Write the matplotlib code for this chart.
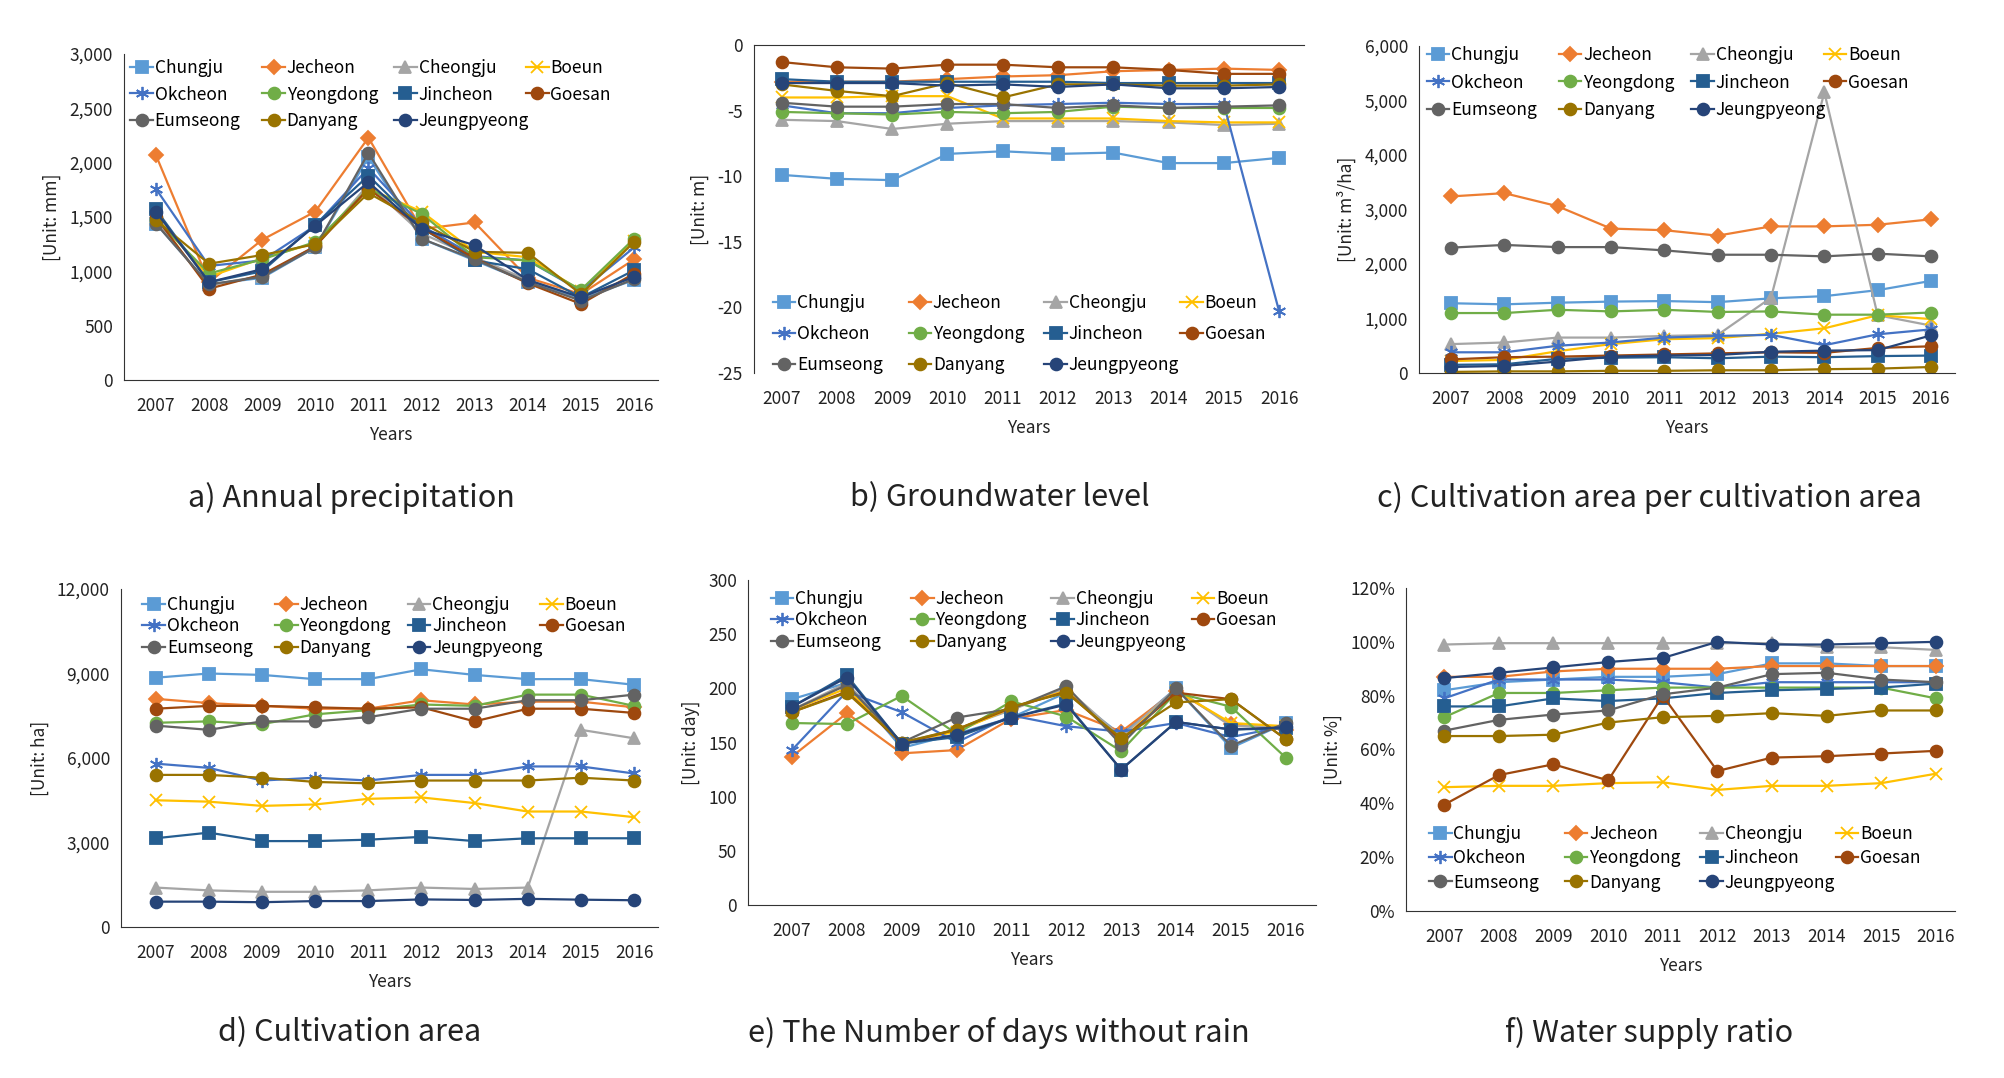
import numpy as np
import matplotlib.pyplot as plt
from matplotlib.ticker import FuncFormatter

plt.rcParams['font.family'] = ['Noto Sans CJK KR', 'DejaVu Sans']
plt.rcParams['axes.unicode_minus'] = False

# ------------------------------
# Datos
# ------------------------------
years = ['2007', '2008', '2009', '2010', '2011', '2012', '2013', '2014', '2015', '2016']
regions = ['Chungju', 'Jecheon', 'Cheongju', 'Boeun', 'Okcheon', 'Yeongdong',
           'Jincheon', 'Goesan', 'Eumseong', 'Danyang', 'Jeungpyeong']

# a) annual precipitation (mm)
precip = [
    [1440, 880, 940, 1220, 2050, 1300, 1100, 900, 750, 920],
    [2070, 900, 1290, 1550, 2230, 1390, 1450, 940, 790, 1110],
    [1470, 870, 960, 1230, 1800, 1350, 1130, 920, 760, 950],
    [1500, 950, 1120, 1260, 1760, 1550, 1180, 1130, 820, 1280],
    [1760, 1050, 1100, 1420, 1950, 1420, 1140, 1100, 820, 1220],
    [1480, 980, 1110, 1270, 1760, 1530, 1130, 1100, 830, 1300],
    [1570, 900, 1000, 1430, 1880, 1400, 1100, 1020, 760, 1010],
    [1500, 840, 970, 1230, 1760, 1400, 1120, 890, 700, 980],
    [1440, 880, 950, 1220, 2090, 1300, 1110, 900, 730, 930],
    [1470, 1070, 1150, 1250, 1720, 1450, 1180, 1170, 790, 1270],
    [1550, 900, 1020, 1420, 1820, 1390, 1240, 920, 760, 950],
]

# b) groundwater level (m)
groundwater = [
    [-9.9, -10.2, -10.3, -8.3, -8.1, -8.3, -8.2, -9.0, -9.0, -8.6],
    [-2.8, -2.8, -2.8, -2.6, -2.4, -2.3, -2.0, -1.9, -1.8, -1.9],
    [-5.7, -5.8, -6.4, -6.0, -5.8, -5.8, -5.8, -5.9, -6.1, -6.0],
    [-4.0, -4.0, -3.9, -3.9, -5.6, -5.6, -5.6, -5.8, -5.9, -5.9],
    [-4.6, -5.2, -5.2, -4.8, -4.6, -4.5, -4.4, -4.5, -4.5, -20.3],
    [-5.1, -5.2, -5.3, -5.1, -5.2, -5.1, -4.7, -4.8, -4.8, -4.8],
    [-2.6, -2.8, -2.8, -2.8, -2.8, -2.8, -2.9, -2.9, -2.9, -2.9],
    [-1.3, -1.7, -1.8, -1.5, -1.5, -1.7, -1.7, -1.9, -2.2, -2.2],
    [-4.4, -4.7, -4.7, -4.5, -4.5, -4.8, -4.6, -4.8, -4.7, -4.6],
    [-3.0, -3.5, -3.9, -2.9, -4.0, -3.0, -3.0, -3.1, -3.1, -3.0],
    [-2.9, -2.9, -2.9, -3.1, -3.0, -3.2, -3.0, -3.3, -3.3, -3.2],
]

# c) water per cultivation area (m3/ha)
water_per_area = [
    [1280, 1260, 1290, 1310, 1320, 1300, 1370, 1410, 1520, 1690],
    [3240, 3300, 3060, 2650, 2620, 2520, 2690, 2690, 2720, 2820],
    [530, 560, 650, 650, 680, 700, 1380, 5150, 1060, 870],
    [220, 240, 400, 530, 620, 640, 720, 820, 1060, 990],
    [380, 380, 500, 560, 650, 680, 700, 510, 710, 800],
    [1100, 1100, 1160, 1130, 1160, 1120, 1130, 1070, 1070, 1110],
    [150, 160, 260, 280, 290, 270, 300, 290, 310, 320],
    [250, 290, 300, 320, 340, 360, 380, 370, 460, 490],
    [2300, 2350, 2310, 2310, 2250, 2170, 2170, 2140, 2190, 2140],
    [20, 30, 30, 40, 40, 50, 50, 70, 80, 110],
    [110, 130, 210, 300, 320, 330, 390, 410, 420, 690],
]

# d) cultivation area (ha)
cult_area = [
    [8850, 9000, 8950, 8800, 8800, 9150, 8950, 8800, 8800, 8600],
    [8100, 7950, 7850, 7750, 7750, 8050, 7900, 8000, 8000, 7800],
    [1400, 1300, 1250, 1250, 1300, 1400, 1350, 1400, 7000, 6700],
    [4500, 4450, 4300, 4350, 4550, 4600, 4400, 4100, 4100, 3900],
    [5800, 5650, 5200, 5300, 5200, 5400, 5400, 5700, 5700, 5450],
    [7250, 7300, 7200, 7550, 7700, 7900, 7850, 8250, 8250, 7850],
    [3150, 3350, 3050, 3050, 3100, 3200, 3050, 3150, 3150, 3150],
    [7750, 7850, 7850, 7800, 7750, 7800, 7300, 7750, 7750, 7600],
    [7150, 7000, 7300, 7300, 7450, 7750, 7750, 8050, 8050, 8250],
    [5400, 5400, 5300, 5150, 5100, 5200, 5200, 5200, 5300, 5200],
    [900, 900, 880, 920, 920, 980, 960, 1000, 970, 950],
]

# e) days without rain
dry_days = [
    [190, 205, 145, 158, 173, 196, 157, 200, 145, 168],
    [137, 177, 140, 143, 172, 180, 160, 198, 167, 162],
    [180, 205, 150, 162, 180, 200, 155, 200, 165, 165],
    [180, 200, 150, 160, 182, 198, 152, 198, 168, 165],
    [143, 197, 178, 150, 175, 165, 160, 168, 155, 165],
    [168, 167, 193, 158, 188, 174, 142, 196, 183, 136],
    [183, 212, 149, 155, 173, 186, 125, 169, 162, 163],
    [178, 197, 149, 162, 182, 197, 152, 196, 190, 153],
    [180, 203, 150, 173, 181, 202, 148, 200, 147, 168],
    [178, 196, 150, 162, 183, 196, 154, 187, 190, 153],
    [183, 210, 149, 157, 173, 185, 125, 169, 162, 164],
]

# f) water supply ratio (%)
supply_ratio = [
    [82, 85, 86, 87, 87, 88, 92, 92, 91, 91],
    [87, 87, 89, 90, 90, 90, 91, 91, 91, 91],
    [99, 99.5, 99.5, 99.5, 99.5, 99.5, 99.5, 98, 98, 97],
    [46, 46.5, 46.5, 47.5, 47.8, 45, 46.5, 46.5, 47.5, 51],
    [79, 86, 86, 86, 85, 83, 85, 85, 85, 85],
    [72, 81, 81, 82, 83, 83, 83, 83, 83, 79],
    [76, 76, 79, 78, 79, 81, 82, 82.5, 83, 84.5],
    [39.5, 50.5, 54.5, 48.5, 80, 52, 57, 57.5, 58.5, 59.5],
    [67, 71, 73, 74.5, 80.5, 83, 88, 88.5, 86, 85],
    [65, 65, 65.5, 70, 72, 72.5, 73.5, 72.5, 74.5, 74.5],
    [86.5, 88.5, 90.5, 92.5, 94, 100, 99, 99, 99.5, 100],
]

colors = ['#5B9BD5', '#ED7D31', '#A5A5A5', '#FFC000', '#4472C4', '#70AD47',
          '#255E91', '#9E480E', '#636363', '#997300', '#264478']
markers = ['s', 'D', '^', 'x', (6, 2, 0), 'o', 's', 'o', 'o', 'o', 'o']
msizes = [8.5, 7, 8, 8.5, 9.5, 8.5, 8.5, 8.5, 8.5, 8.5, 8.5]

W, H = 2004, 1078
fig = plt.figure(figsize=(W / 100, H / 100), dpi=100)
fig.patch.set_facecolor('white')


def draw_panel(box, data, yticks, fmt, ylabel, xlim, leg_x0, leg_y, leg_space,
               caption, cap_x, cap_y, axis_top=False):
    left, right, top, bottom = box
    ax = fig.add_axes([left / W, 1 - bottom / H, (right - left) / W, (bottom - top) / H])
    x = np.arange(len(years))
    for i, name in enumerate(regions):
        ax.plot(x, data[i], color=colors[i], marker=markers[i], ms=msizes[i],
                mew=1.3, lw=1.6, label=name)
    ax.set_ylim(yticks[0], yticks[-1])
    ax.set_yticks(yticks)
    ax.yaxis.set_major_formatter(FuncFormatter(fmt))
    ax.set_xlim(*xlim)
    ax.set_xticks(x)
    ax.set_xticklabels(years)
    ax.tick_params(length=0, labelsize=12.5, colors='#222222')
    ax.tick_params(axis='x', pad=12)
    ax.tick_params(axis='y', pad=8)
    for s in ['right', 'top', 'bottom', 'left']:
        ax.spines[s].set_visible(False)
    ax.spines['left'].set_visible(True)
    ax.spines['left'].set_color('#333333')
    edge = 'top' if axis_top else 'bottom'
    ax.spines[edge].set_visible(True)
    ax.spines[edge].set_color('#333333')
    ax.set_xlabel('Years', fontsize=12.5, labelpad=8, color='#222222')
    ax.set_ylabel(ylabel, fontsize=12.5, labelpad=6, color='#222222')

    # leyenda en 4 columnas de ancho fijo (como Excel)
    h, lab = ax.get_legend_handles_labels()
    for c in range(4):
        idx = list(range(c, len(regions), 4))
        leg = ax.legend([h[k] for k in idx], [lab[k] for k in idx],
                        loc='upper left', bbox_to_anchor=(leg_x0 + c * 0.247, leg_y),
                        frameon=False, fontsize=12.5, handlelength=1.3,
                        handletextpad=0.1, borderpad=0, borderaxespad=0,
                        labelspacing=leg_space)
        if c < 3:
            ax.add_artist(leg)
    fig.text(cap_x / W, 1 - cap_y / H, caption, fontsize=22, ha='center',
             va='center', color='#222222')
    return ax


comma = lambda v, p: f'{v:,.0f}'
plain = lambda v, p: f'{v:.0f}'
pct = lambda v, p: f'{v:.0f}%'

draw_panel((124, 658, 54, 380), precip, np.arange(0, 3001, 500), comma,
           '[Unit: mm]', (-0.6, 9.45), 0.012, 0.985, 0.5,
           'a) Annual precipitation', 351, 498)
draw_panel((754, 1304, 45, 373), groundwater, np.arange(-25, 1, 5), plain,
           '[Unit: m]', (-0.5, 9.45), 0.034, 0.24, 0.75,
           'b) Groundwater level', 1000, 498, axis_top=True)
draw_panel((1419, 1955, 46, 373), water_per_area, np.arange(0, 6001, 1000), comma,
           '[Unit: m\u00b3/ha]', (-0.6, 9.45), 0.014, 1.0, 0.55,
           'c) Cultivation area per cultivation area', 1649, 498)
draw_panel((121, 658, 589, 927), cult_area, np.arange(0, 12001, 3000), comma,
           '[Unit: ha]', (-0.65, 9.45), 0.04, 0.98, 0.2,
           'd) Cultivation area', 350, 1033)
draw_panel((748, 1316, 580, 905), dry_days, np.arange(0, 301, 50), plain,
           '[Unit: day]', (-0.8, 9.55), 0.04, 0.97, 0.2,
           'e) The Number of days without rain', 999, 1033)
draw_panel((1406, 1955, 588, 911), supply_ratio, np.arange(0, 121, 20), pct,
           '[Unit: %]', (-0.7, 9.35), 0.042, 0.265, 0.35,
           'f) Water supply ratio', 1649, 1033)

plt.savefig('out.png', dpi=100, facecolor='white')
